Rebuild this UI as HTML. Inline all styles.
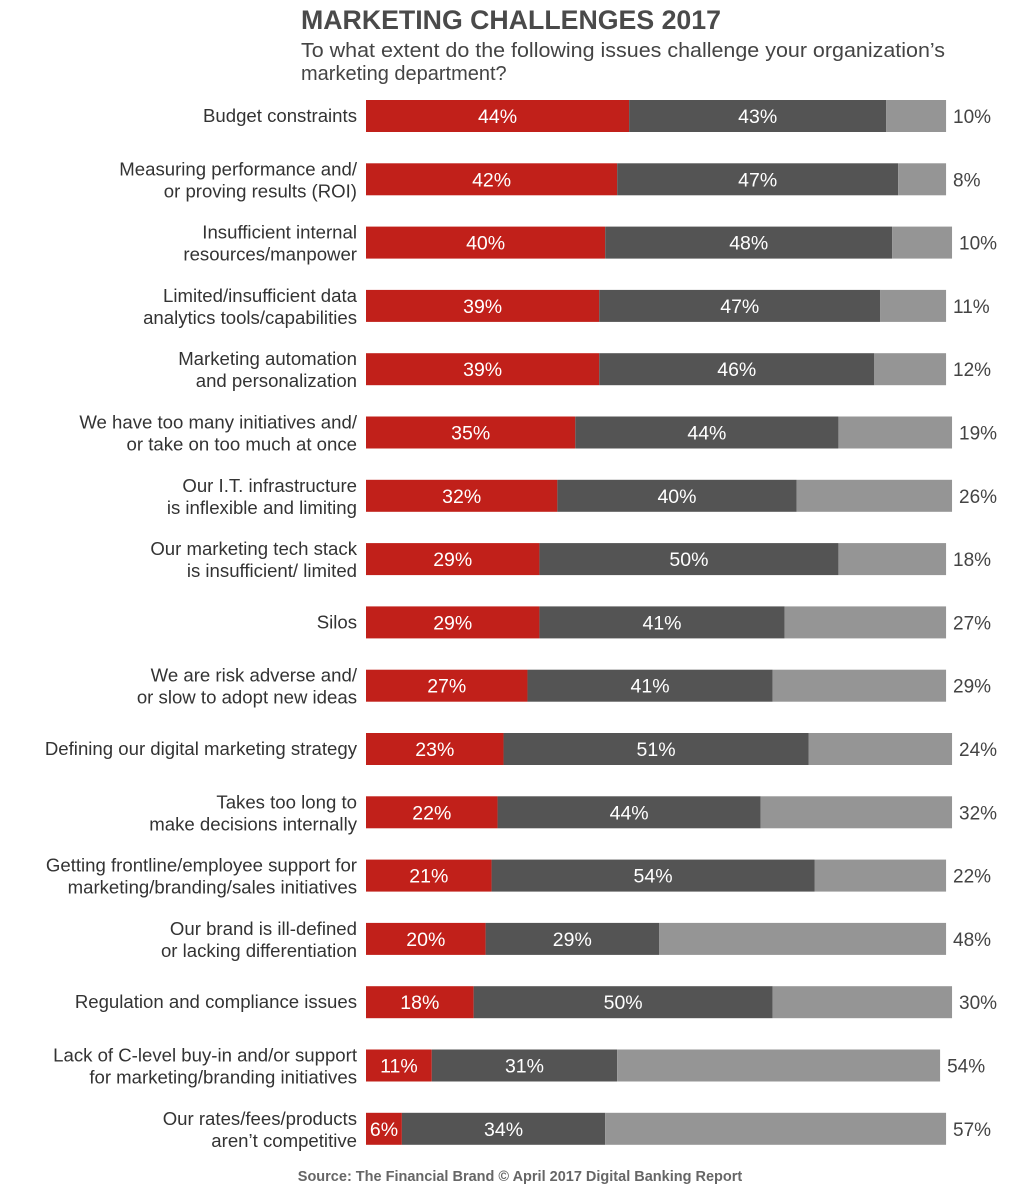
<!DOCTYPE html>
<html><head><meta charset="utf-8"><style>
body{margin:0;background:#fff;}
svg{display:block;font-family:"Liberation Sans",sans-serif;}
</style></head><body>
<svg id="chart" width="1022" height="1200">
<text x="301" y="29" font-size="27" font-weight="bold" fill="#4a4a4a" textLength="420" lengthAdjust="spacingAndGlyphs">MARKETING CHALLENGES 2017</text>
<text x="301" y="57" font-size="20" fill="#444" textLength="644" lengthAdjust="spacingAndGlyphs">To what extent do the following issues challenge your organization’s</text>
<text x="301" y="80" font-size="20" fill="#444">marketing department?</text>
<text x="520" y="1181" font-size="14.5" font-weight="bold" fill="#666" text-anchor="middle">Source: The Financial Brand © April 2017 Digital Banking Report</text>
<g id="bars"></g>
</svg>
<script>
const categories = [
 ["Budget constraints"],
 ["Measuring performance and/","or proving results (ROI)"],
 ["Insufficient internal","resources/manpower"],
 ["Limited/insufficient data","analytics tools/capabilities"],
 ["Marketing automation","and personalization"],
 ["We have too many initiatives and/","or take on too much at once"],
 ["Our I.T. infrastructure","is inflexible and limiting"],
 ["Our marketing tech stack","is insufficient/ limited"],
 ["Silos"],
 ["We are risk adverse and/","or slow to adopt new ideas"],
 ["Defining our digital marketing strategy"],
 ["Takes too long to","make decisions internally"],
 ["Getting frontline/employee support for","marketing/branding/sales initiatives"],
 ["Our brand is ill-defined","or lacking differentiation"],
 ["Regulation and compliance issues"],
 ["Lack of C-level buy-in and/or support","for marketing/branding initiatives"],
 ["Our rates/fees/products","aren’t competitive"]
];
const major = [44,42,40,39,39,35,32,29,29,27,23,22,21,20,18,11,6];
const moderate = [43,47,48,47,46,44,40,50,41,41,51,44,54,29,50,31,34];
const minor = [10,8,10,11,12,19,26,18,27,29,24,32,22,48,30,54,57];

const NS="http://www.w3.org/2000/svg";
const g=document.getElementById('bars');
const x0=366, pxPer=5.98, y0=116, rowStep=63.3, barH=32;
const xScale=v=>x0+v*pxPer;
const yScale=i=>y0+i*rowStep;
function mk(tag,attrs){const e=document.createElementNS(NS,tag);for(const k in attrs)e.setAttribute(k,attrs[k]);return e;}
categories.forEach((lines,i)=>{
  const cy=yScale(i);
  const segs=[[major[i],'#c1201a','major'],[moderate[i],'#545454','moderate'],[minor[i],'#959595','minor']];
  let acc=0;
  segs.forEach(([v,c,nm],k)=>{
    const r=mk('rect',{x:xScale(acc),y:cy-barH/2,width:v*pxPer,height:barH,fill:c});
    
    
    g.appendChild(r);
    if(k<2){
      const t=mk('text',{x:xScale(acc+v/2),y:cy+7,'font-size':19.5,fill:'#fff','text-anchor':'middle'});
      t.textContent=v+'%';
      
      
      g.appendChild(t);
    }
    acc+=v;
  });
  const t=mk('text',{x:xScale(acc)+7,y:cy+7,'font-size':19,fill:'#444'});
  t.textContent=minor[i]+'%';
  
  
  g.appendChild(t);
  const lab=mk('text',{x:357,'font-size':18.6,fill:'#333','text-anchor':'end'});
  
  
  if(lines.length===1){
    lab.setAttribute('y',cy+6);lab.textContent=lines[0];
  } else {
    lines.forEach((ln,j)=>{const ts=mk('tspan',{x:357,y:cy-4+j*22});ts.textContent=ln;lab.appendChild(ts);});
  }
  g.appendChild(lab);
});
</script>
</body></html>
